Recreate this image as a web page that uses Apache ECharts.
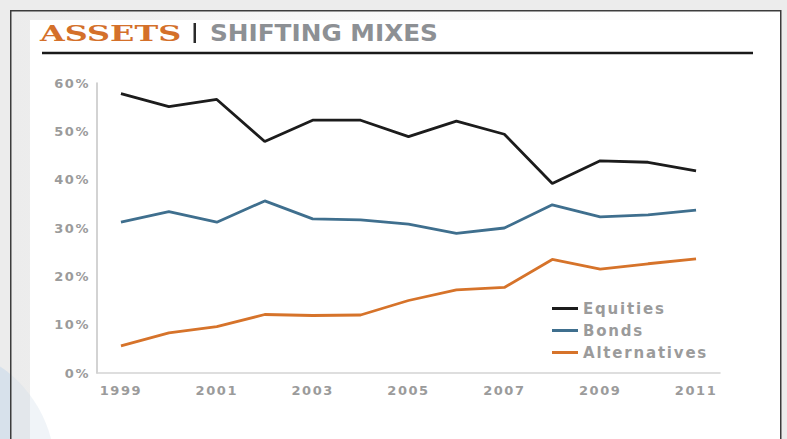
<!DOCTYPE html>
<html>
<head>
<meta charset="utf-8">
<style>
  html, body { margin: 0; padding: 0; background: #ececec; }
  #chart { width: 787px; height: 439px; }
  #chart text { letter-spacing: 0.12em; }
  #chart text[style*="Serif"], #chart text[style*="Verdana"] { letter-spacing: 0; }
</style>
<script src="https://cdn.jsdelivr.net/npm/echarts@6/dist/echarts.min.js"></script>
</head>
<body>
<div id="chart"></div>
<script>
const years = ['1999','2000','2001','2002','2003','2004','2005','2006','2007','2008','2009','2010','2011'];
const equities = [57.8, 55.1, 56.6, 47.9, 52.3, 52.3, 48.9, 52.1, 49.4, 39.2, 43.9, 43.6, 41.8];
const bonds = [31.2, 33.4, 31.2, 35.6, 31.9, 31.7, 30.8, 28.9, 30.0, 34.8, 32.3, 32.7, 33.7];
const alternatives = [5.6, 8.3, 9.6, 12.1, 11.9, 12.0, 15.0, 17.2, 17.7, 23.5, 21.5, 22.6, 23.6];
const yTicks = [0, 10, 20, 30, 40, 50, 60];
const seriesNames = ['Equities', 'Bonds', 'Alternatives'];
const titleMain = 'ASSETS';
const titleSub = 'SHIFTING MIXES';

const colors = ['#1c1c1c', '#3f6f8e', '#d6732a'];
const labelColor = '#9b9b9b';

const chart = echarts.init(document.getElementById('chart'), null, { renderer: 'svg' });

const seriesData = [equities, bonds, alternatives];

chart.setOption({
  animation: false,
  backgroundColor: '#ececec',
  grid: { left: 97, right: 67, top: 83, bottom: 66 },
  legend: {
    orient: 'vertical',
    left: 547,
    top: 296,
    icon: 'rect',
    itemWidth: 26,
    itemHeight: 3,
    itemGap: 7,
    data: seriesNames,
    textStyle: { fontFamily: 'DejaVu Sans', fontSize: 15, fontWeight: 'bold', color: labelColor }
  },
  xAxis: {
    type: 'category',
    data: years,
    boundaryGap: true,
    axisLine: { lineStyle: { color: '#d3d3d3', width: 1.5 } },
    axisTick: { show: false },
    axisLabel: { interval: 1, margin: 11, fontFamily: 'DejaVu Sans', fontSize: 13, fontWeight: 'bold', color: labelColor }
  },
  yAxis: {
    type: 'value',
    min: yTicks[0],
    max: yTicks[yTicks.length - 1],
    interval: yTicks[1] - yTicks[0],
    splitLine: { show: false },
    axisLine: { show: true, lineStyle: { color: '#c4c4c4', width: 1.5 } },
    axisTick: { show: false },
    axisLabel: { margin: 7, formatter: '{value}%', fontFamily: 'DejaVu Sans', fontSize: 13, fontWeight: 'bold', color: labelColor }
  },
  graphic: [
    { type: 'circle', z: -20, silent: true, shape: { cx: -70, cy: 470, r: 125 }, style: { fill: '#dbe4ed' } },
    { type: 'rect', z: -19, silent: true, shape: { x: 11, y: 11, width: 769, height: 430 },
      style: { fill: new echarts.graphic.LinearGradient(0, 0, 1, 0, [
        { offset: 0, color: '#ececec' }, { offset: 0.5, color: '#f8f8f8' }, { offset: 1, color: '#ffffff' }]) } },
    { type: 'rect', z: -18, silent: true, shape: { x: 30, y: 20, width: 750, height: 421 }, style: { fill: '#ffffff' } },
    { type: 'circle', z: -17, silent: true, shape: { cx: -70, cy: 470, r: 125 }, style: { fill: 'rgba(205,220,233,0.3)' } },
    { type: 'polyline', z: -16, silent: true, shape: { points: [[10.75, 441], [10.75, 10.75], [780.75, 10.75], [780.75, 441]] },
      style: { stroke: '#3c3c3c', lineWidth: 1.5, fill: null } },
    { type: 'line', z: 10, silent: true, shape: { x1: 42, y1: 53, x2: 753, y2: 53 }, style: { stroke: '#1a1a1a', lineWidth: 2.5 } },
    { type: 'text', z: 10, silent: true, x: 40, y: 33, scaleX: 1.45,
      style: { text: titleMain, fontFamily: 'DejaVu Serif', fontWeight: 'bold', fontSize: 22, fill: '#d4702a', textVerticalAlign: 'middle' } },
    { type: 'rect', z: 10, silent: true, shape: { x: 193.5, y: 23, width: 2.5, height: 20 }, style: { fill: '#2a2a2a' } },
    { type: 'text', z: 10, silent: true, x: 210, y: 33.5, scaleX: 1.1,
      style: { text: titleSub, fontFamily: 'Verdana, DejaVu Sans', fontWeight: 'bold', fontSize: 22.5, fill: '#8d9094', textVerticalAlign: 'middle' } }
  ],
  series: seriesNames.map((name, i) => ({
    name: name,
    type: 'line',
    data: seriesData[i],
    symbol: 'none',
    z: 5 - i,
    itemStyle: { color: colors[i] },
    lineStyle: { color: colors[i], width: 2.8 }
  }))
});
</script>
</body>
</html>
